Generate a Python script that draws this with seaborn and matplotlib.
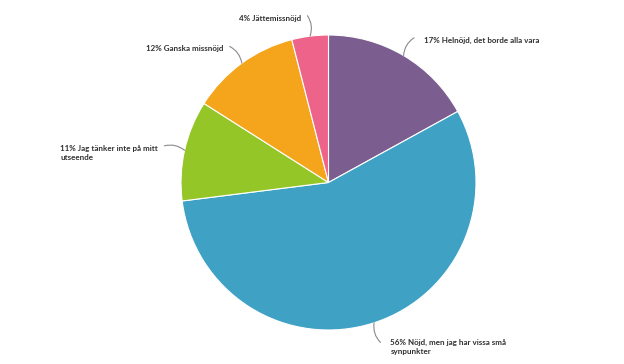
import numpy as np
import matplotlib
matplotlib.use("Agg")
import matplotlib.pyplot as plt
import seaborn as sns

categories = ["Helnöjd, det borde alla vara",
              "Nöjd, men jag har vissa små\nsynpunkter",
              "Jag tänker inte på mitt\nutseende",
              "Ganska missnöjd",
              "Jättemissnöjd"]
values = [17, 56, 11, 12, 4]
colors = ["#7B5D8F", "#3FA1C4", "#95C628", "#F5A51C", "#EE6389"]

sns.set_theme(style="white")
plt.rcParams["font.family"] = ["Lato", "DejaVu Sans"]

fig = plt.figure(figsize=(6.24, 3.64), dpi=100)
ax = fig.add_axes([181 / 624, 34 / 364, 295 / 624, 295 / 364])
wedges, _ = ax.pie(values, colors=colors, startangle=90, counterclock=False,
                   wedgeprops=dict(edgecolor="white", linewidth=0.8))
ax.set_xlim(-1, 1)
ax.set_ylim(-1, 1)
ax.set_aspect("equal")
ax.axis("off")

for w, v, name in zip(wedges, values, categories):
    th = np.deg2rad((w.theta1 + w.theta2) / 2)
    c, s = np.cos(th), np.sin(th)
    edge = (c, s)
    end = (1.14 * c, 1.14 * s)
    rad = 0.25 * np.sign(np.sin(2 * th))
    ax.annotate("", xy=edge, xytext=end,
                arrowprops=dict(arrowstyle="-", color="#8a8a8a", lw=0.8,
                                connectionstyle=f"arc3,rad={rad}",
                                shrinkA=0, shrinkB=0),
                annotation_clip=False)
    right = c > 0
    ax.annotate(f"{v}% {name}", xy=end,
                xytext=(10 if right else -6.5, 1 if s > 0 else 3.5),
                textcoords="offset pixels",
                ha="left" if right else "right", va="top",
                multialignment="left", fontsize=5.8, fontweight="bold",
                color="#303030", linespacing=1.4, annotation_clip=False)

fig.savefig("out.png", dpi=100)
